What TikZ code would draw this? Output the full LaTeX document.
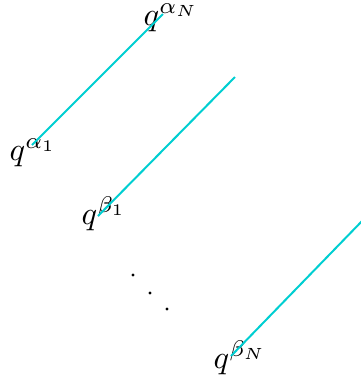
\documentclass[tikz,border=0pt]{standalone}
\definecolor{linecyan}{RGB}{0,206,209}
\tikzset{
  lbl/.style={anchor=base west, inner sep=0pt, scale=3.25},
  seg/.style={draw=linecyan, line width=2bp},
  dotmark/.style={fill=black, draw=none}
}
\begin{document}
\begin{tikzpicture}[x=1bp, y=-1bp]
\useasboundingbox (0,0) rectangle (361,381);
\node[lbl] (a1) at (9,160) {$q^{\alpha_1}$};
\node[lbl] (aN) at (143,25) {$q^{\alpha_N}$};
\node[lbl] (b1) at (81,224) {$q^{\beta_1}$};
\node[lbl] (bN) at (213,368) {$q^{\beta_N}$};
\coordinate (a1e) at (32,145);
\coordinate (aNe) at (163,14);
\coordinate (b1e) at (98,216);
\coordinate (b1t) at (235,77);
\coordinate (bNe) at (231,356);
\coordinate (bNt) at (364,219);
\draw[seg] (a1e) -- (aNe);
\draw[seg] (b1e) -- (b1t);
\draw[seg] (bNe) -- (bNt);
\fill[dotmark] (133,275) circle (1.7);
\fill[dotmark] (150,293) circle (1.7);
\fill[dotmark] (167,309) circle (1.7);
\end{tikzpicture}
\end{document}
